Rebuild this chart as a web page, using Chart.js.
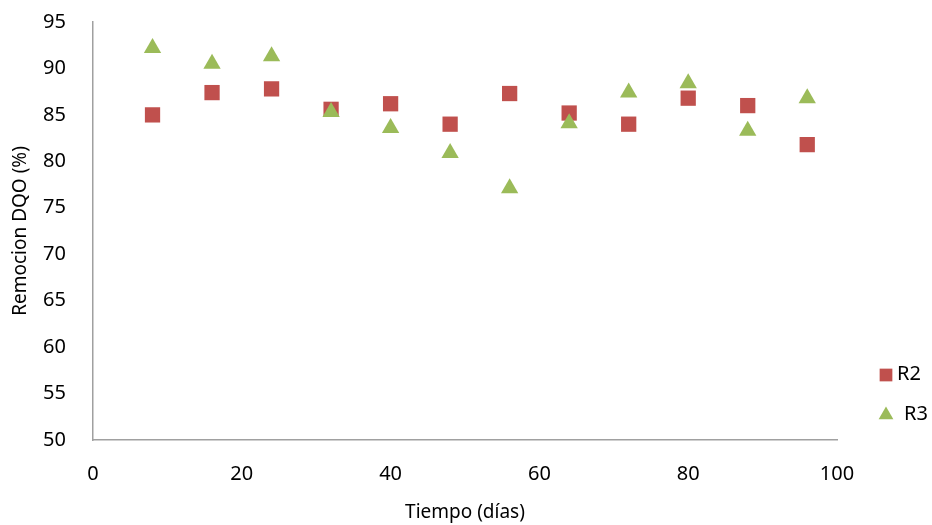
<!DOCTYPE html>
<html>
<head>
<meta charset="utf-8">
<script src="https://cdn.jsdelivr.net/npm/chart.js@4.4.1/dist/chart.umd.min.js"></script>
<style>
  html, body { margin: 0; padding: 0; background: #fff; }
  #wrap { width: 932px; height: 525px; }
</style>
</head>
<body>
<div id="wrap"><canvas id="dqoChart" width="932" height="525"></canvas></div>
<script>
// Remocion de DQO por reactor
var dias = [8, 16, 24, 32, 40, 48, 56, 64, 72, 80, 88, 96];
var r2 = [85.0, 87.4, 87.8, 85.6, 86.2, 84.0, 87.3, 85.2, 84.0, 86.8, 86.0, 81.8];
var r3 = [92.2, 90.5, 91.3, 85.3, 83.6, 80.9, 77.1, 84.1, 87.4, 88.4, 83.3, 86.8];
var yTicks = [50, 55, 60, 65, 70, 75, 80, 85, 90, 95];
var xTicks = [0, 20, 40, 60, 80, 100];

var ROJO = '#c0504d';
var VERDE = '#9bbb59';
var FUENTE = '"Noto Sans", "Open Sans", sans-serif';

function toPoints(xs, ys) {
    return xs.map(function(x, i) { return { x: x, y: ys[i] }; });
}

// Leyenda simple a la derecha del area de trazado
var leyenda = {
    id: 'leyendaDerecha',
    afterDatasetsDraw: function(chart) {
        var ctx = chart.ctx;
        var items = [
            { text: 'R2', style: 'rect', color: ROJO, radius: 9, y: 375, tx: 897 },
            { text: 'R3', style: 'triangle', color: VERDE, radius: 8.5, y: 415, tx: 904 }
        ];
        ctx.save();
        items.forEach(function(it) {
            ctx.fillStyle = it.color;
            Chart.helpers.drawPoint(ctx, { pointStyle: it.style, radius: it.radius, borderWidth: 0, rotation: 0 }, 886, it.y);
            ctx.fillStyle = '#000';
            ctx.font = '20px ' + FUENTE;
            ctx.textAlign = 'left';
            ctx.textBaseline = 'middle';
            ctx.fillText(it.text, it.tx, it.y - 1);
        });
        ctx.restore();
    }
};

new Chart(document.getElementById('dqoChart'), {
    type: 'scatter',
    data: {
        datasets: [{
            label: 'R2',
            data: toPoints(dias, r2),
            pointStyle: 'rect',
            pointRadius: 10.8,
            pointHoverRadius: 10.8,
            backgroundColor: ROJO,
            borderColor: ROJO,
            pointBorderWidth: 0,
            order: 1
        }, {
            label: 'R3',
            data: toPoints(dias, r3),
            pointStyle: 'triangle',
            pointRadius: 10,
            pointHoverRadius: 10,
            backgroundColor: VERDE,
            borderColor: VERDE,
            pointBorderWidth: 0,
            order: 0
        }]
    },
    options: {
        responsive: false,
        animation: false,
        layout: { padding: { top: 22, right: 95, left: 0, bottom: 0 } },
        plugins: {
            legend: { display: false },
            tooltip: { enabled: false }
        },
        scales: {
            x: {
                type: 'linear',
                min: 0,
                max: 100,
                afterBuildTicks: function(scale) {
                    scale.ticks = xTicks.map(function(v) { return { value: v }; });
                },
                afterFit: function(scale) { scale.height = 85; },
                grid: { display: false, drawTicks: false },
                border: { display: true, color: '#a0a0a0', width: 1.5 },
                ticks: { padding: 22, color: '#000', font: { family: FUENTE, size: 20 } },
                title: {
                    display: true,
                    text: 'Tiempo (días)',
                    color: '#000',
                    font: { family: FUENTE, size: 19 },
                    padding: { bottom: 1 }
                }
            },
            y: {
                type: 'linear',
                min: 50,
                max: 95,
                afterBuildTicks: function(scale) {
                    scale.ticks = yTicks.map(function(v) { return { value: v }; });
                },
                afterFit: function(scale) {
                    scale.width = 93;
                    scale.paddingTop = 0;
                    scale.paddingBottom = 0;
                },
                grid: { display: false, drawTicks: false },
                border: { display: true, color: '#a0a0a0', width: 1.5 },
                ticks: { padding: 27, color: '#000', font: { family: FUENTE, size: 20 } },
                title: {
                    display: true,
                    text: 'Remocion DQO (%)',
                    color: '#000',
                    font: { family: FUENTE, size: 19 },
                    padding: { top: 9 }
                }
            }
        }
    },
    plugins: [leyenda]
});
</script>
</body>
</html>
